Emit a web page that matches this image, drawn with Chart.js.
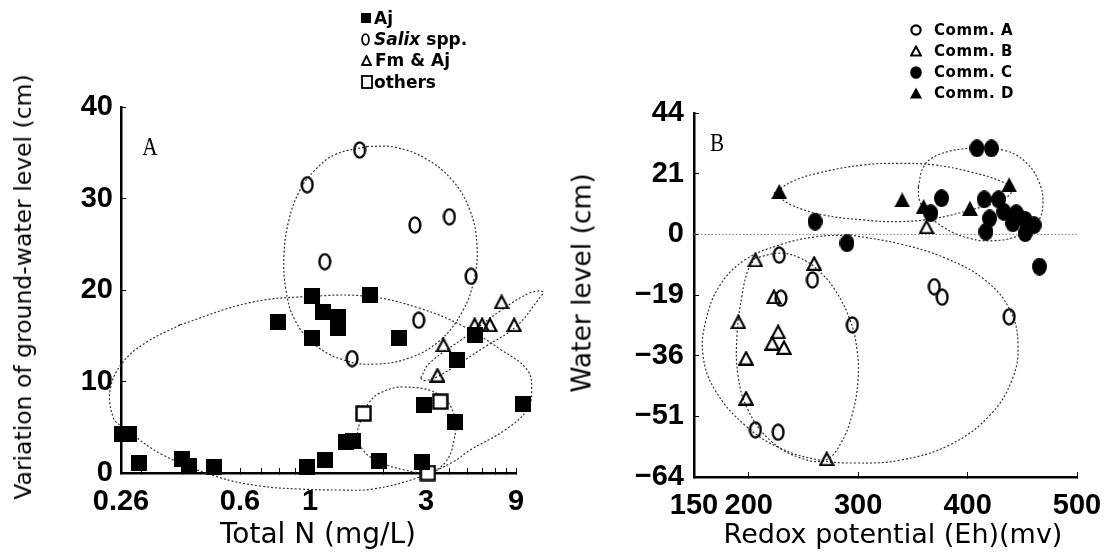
<!DOCTYPE html>
<html>
<head>
<meta charset="utf-8">
<script src="https://cdn.jsdelivr.net/npm/chart.js@4.4.0/dist/chart.umd.min.js"></script>
<style>
  body { margin: 0; background: #fff; }
  #wrap { position: relative; width: 1119px; height: 558px; overflow: hidden; font-family: "DejaVu Sans", sans-serif; color: #000; }
  canvas { position: absolute; top: 0; }
  .t { position: absolute; white-space: nowrap; transform: translate(-50%, -50%); }
  .lg { position: absolute; white-space: nowrap; transform: translateY(-50%); font-weight: bold; display: flex; align-items: center; }
  .lg svg { display: block; }
</style>
</head>
<body>
<div id="wrap">
  <canvas id="chart-a" width="560" height="558" style="left:0"></canvas>
  <canvas id="chart-b" width="559" height="558" style="left:560px"></canvas>

  <div class="t" style="left:23px; top:287px; font-size:23.5px; transform:translate(-50%,-50%) rotate(-90deg);">Variation of ground-water level (cm)</div>
  <div class="t" style="left:318px; top:533px; font-size:28px;">Total N (mg/L)</div>
  <div class="t" style="left:150px; top:147px; font-family:'Liberation Serif',serif; font-size:25px; transform:translate(-50%,-50%) scaleX(0.85);">A</div>

  <div class="t" style="left:581px; top:283px; font-size:26.5px; transform:translate(-50%,-50%) rotate(-90deg);">Water level (cm)</div>
  <div class="t" style="left:893px; top:533px; font-size:27px;">Redox potential (Eh)(mv)</div>
  <div class="t" style="left:717px; top:143px; font-family:'Liberation Serif',serif; font-size:25px; transform:translate(-50%,-50%) scaleX(0.85);">B</div>

  <div class="lg" style="left:361px; top:18px; font-size:17px;"><svg width="10" height="10"><rect x="0" y="0" width="10" height="10" fill="#000"/></svg><span style="margin-left:3px">Aj</span></div>
  <div class="lg" style="left:361px; top:39px; font-size:17px;"><svg width="9" height="13"><ellipse cx="4.5" cy="6.5" rx="3.4" ry="5.4" fill="none" stroke="#000" stroke-width="1.8"/></svg><span style="margin-left:4px"><i>Salix</i> spp.</span></div>
  <div class="lg" style="left:361px; top:60px; font-size:17px;"><svg width="11" height="11"><polygon points="5.5,1 10,10 1,10" fill="none" stroke="#000" stroke-width="1.8"/></svg><span style="margin-left:3px">Fm &amp; Aj</span></div>
  <div class="lg" style="left:361px; top:82px; font-size:17px;"><svg width="12" height="14"><rect x="1" y="1" width="10" height="12" fill="none" stroke="#000" stroke-width="1.8"/></svg><span style="margin-left:1px">others</span></div>

  <div class="lg" style="left:910px; top:30px; font-size:15px; letter-spacing:0.6px;"><svg width="12" height="12"><circle cx="6" cy="6" r="4.6" fill="none" stroke="#000" stroke-width="2.2"/></svg><span style="margin-left:12px">Comm. A</span></div>
  <div class="lg" style="left:910px; top:51px; font-size:15px; letter-spacing:0.6px;"><svg width="12" height="12"><polygon points="6,1.5 11,10.5 1,10.5" fill="none" stroke="#000" stroke-width="2"/></svg><span style="margin-left:12px">Comm. B</span></div>
  <div class="lg" style="left:910px; top:72px; font-size:15px; letter-spacing:0.6px;"><svg width="12" height="13"><ellipse cx="6" cy="6.5" rx="5.8" ry="6.3" fill="#000"/></svg><span style="margin-left:12px">Comm. C</span></div>
  <div class="lg" style="left:910px; top:93px; font-size:15px; letter-spacing:0.6px;"><svg width="12" height="12"><polygon points="6,0.5 12,11.5 0,11.5" fill="#000"/></svg><span style="margin-left:12px">Comm. D</span></div>
</div>

<script>
// ---- panel A : Total N vs variation of ground-water level ----
const nKnots = [0.26, 0.6, 1, 3, 9];
const nLabels = ["0.26", "0.6", "1", "3", "9"];
const nMinor = [0.3, 0.4, 0.5, 0.7, 0.8, 0.9, 2, 4, 5, 6, 7, 8];
const gwTicks = [0, 10, 20, 30, 40];

const ajPoints = [
  [1.02, 19.3], [1.77, 19.5], [1.13, 17.6], [1.30, 17.1], [1.30, 15.8], [0.79, 16.5],
  [1.02, 14.7], [2.32, 14.7], [5.43, 15.1], [4.36, 12.35], [2.95, 7.4], [9.8, 7.5],
  [4.27, 5.6], [0.262, 4.3], [0.275, 4.3], [0.296, 1.05], [0.40, 1.5], [0.42, 0.77],
  [0.50, 0.7], [0.98, 0.7], [1.15, 1.4], [1.41, 3.4], [1.50, 3.5], [1.92, 1.3], [2.88, 1.2]
];
const salixPoints = [
  [1.60, 35.3], [0.98, 31.5], [2.70, 27.1], [3.99, 28.0], [1.15, 23.1], [5.2, 21.5],
  [2.80, 16.7], [1.49, 12.5]
];
const fmAjPoints = [
  [7.55, 18.7], [5.43, 16.2], [5.95, 16.2], [6.55, 16.2], [8.8, 16.2], [3.71, 14.0], [3.45, 10.7]
];
const otherPoints = [[1.66, 6.5], [3.57, 7.8], [3.07, 0]];

// dotted group outlines
const salixRing = [
  [1.733, 35.7], [1.267, 34.8], [1.048, 33.1], [0.929, 30.9], [0.858, 27.7], [0.827, 23.8],
  [0.839, 20.0], [0.896, 16.7], [1.048, 14.0], [1.393, 12.3], [1.851, 11.9], [2.578, 12.6],
  [3.56, 14.5], [4.66, 17.6], [5.39, 21.1], [5.59, 24.9], [5.13, 28.7], [4.13, 32.0],
  [2.97, 34.4], [2.24, 35.6], [1.733, 35.7]
];
const ajRing = [
  [0.394, 16.2], [0.641, 18.6], [1.01, 19.3], [1.733, 19.3], [2.83, 18.0], [4.66, 16.1],
  [7.58, 13.4], [10.3, 11.3], [10.9, 9.1], [10.3, 6.9], [7.87, 4.7], [5.13, 2.5], [4.17, 1.2],
  [2.75, -0.55], [1.816, -1.75], [1.33, -1.86], [0.93, -1.75], [0.694, -1.42], [0.514, -0.44],
  [0.349, 1.97], [0.277, 4.37], [0.262, 5.0], [0.246, 6.1], [0.241, 9.1], [0.262, 12.0],
  [0.308, 14.2], [0.394, 16.2]
];
const otherRing = [
  [1.662, 6.52], [1.568, 4.34], [1.652, 2.51], [1.922, 1.23], [2.445, 0.33], [3.06, -0.03],
  [3.82, 1.23], [4.22, 3.6], [4.26, 6.15], [3.57, 8.5], [2.445, 9.4], [1.926, 8.7],
  [1.738, 7.6], [1.662, 6.52]
];
const fmAjRing = [
  [2.85, 10.35], [3.13, 12.0], [4.87, 14.9], [7.52, 17.8], [10.7, 19.7], [12.5, 19.8],
  [11.96, 19.1], [9.0, 16.0], [6.06, 13.7], [4.45, 11.9], [3.42, 10.5], [2.95, 10.1], [2.85, 10.35]
];

// ---- panel B : redox potential vs water level ----
const ehTicks = [150, 200, 300, 400, 500];
const wlKnots = [-64, -51, -36, -19, 0, 21, 44];
const wlLabels = ["\u221264", "\u221251", "\u221236", "\u221219", "0", "21", "44"];

const commA = [
  [227.9, -6.5], [258.2, -14.3], [229.5, -19.9], [369.6, -16.4], [376.8, -19.6],
  [294.7, -27.4], [438.0, -25.1], [206.1, -53.9], [226.9, -54.4]
];
const commB = [
  [362.5, 2.6], [206.1, -8.0], [259.8, -9.1], [223.0, -19.5], [190.5, -26.5], [226.9, -29.3],
  [221.4, -32.5], [232.2, -33.7], [197.6, -36.6], [197.6, -46.5], [271.3, -60.1]
];
const commC = [
  [408.6, 30.6], [421.8, 30.6], [260.6, 4.4], [289.8, -2.8], [376.2, 12.5], [366.4, 7.3],
  [415.2, 12.1], [428.3, 12.1], [420.1, 5.5], [433.1, 7.8], [441.3, 3.8], [444.5, 7.3],
  [452.7, 5.0], [460.8, 3.2], [416.8, 0.9], [452.7, 0.4], [465.7, -10.1]
];
const commD = [[227.9, 14.8], [340.3, 11.9], [359.8, 9.6], [402.2, 9.0], [438.0, 17.1]];

const ringD = [
  [223.0, 14.2], [239.3, 18.2], [262.1, 21.1], [304.4, 24.3], [337.1, 24.9], [369.6, 24.3],
  [402.2, 21.7], [431.5, 18.2], [440.6, 15.3], [431.5, 11.9], [402.2, 8.4], [369.6, 5.5],
  [337.1, 4.4], [304.4, 5.0], [268.6, 6.7], [239.3, 10.1], [223.0, 14.2]
];
const ringC = [
  [355.0, 16.5], [359.8, 23.6], [372.9, 28.1], [402.2, 30.6], [434.7, 29.7], [454.3, 24.9],
  [465.7, 17.7], [468.9, 10.7], [464.1, 4.4], [447.8, -0.2], [425.0, -2.0], [402.2, -1.3],
  [379.4, 2.1], [363.1, 7.3], [356.0, 11.9], [355.0, 16.5]
];
const ringA = [
  [292.6, -0.2], [338.2, -3.0], [379.4, -7.4], [415.9, -14.3], [438.8, -23.2], [446.1, -33.0],
  [440.6, -42.0], [420.5, -50.7], [383.9, -57.1], [338.2, -60.4], [297.1, -61.0], [265.1, -60.4],
  [228.6, -57.8], [196.6, -52.9], [169.2, -44.5], [158.2, -35.8], [161.0, -26.0], [173.8, -15.9],
  [196.6, -8.0], [228.6, -3.3], [260.6, -0.8], [292.6, -0.2]
];
const ringB = [
  [205.7, -7.4], [228.6, -5.9], [246.9, -7.4], [263.3, -11.2], [278.8, -17.4], [292.6, -26.0],
  [299.0, -34.4], [299.9, -42.0], [294.4, -50.7], [283.4, -57.1], [269.7, -60.4], [246.9, -59.9],
  [219.5, -56.1], [199.3, -49.4], [190.2, -40.8], [189.3, -30.2], [193.9, -19.0], [199.3, -11.2],
  [205.7, -7.4]
];
const zeroLine = [[150, 0], [500, 0]];

// the figure's axes put their labelled ticks at uneven places, so map piecewise between knots;
// knotAt gives where each knot sits along the axis (0 = start, 1 = end)
function makeKnotScale(id, knots, knotAt, useLog, minor) {
  const f = useLog ? Math.log10 : (v) => v;
  class KnotScale extends Chart.LinearScale {
    buildTicks() {
      return knots.concat(minor).map((v) => ({ value: v }));
    }
    knotDecimal(value) {
      let i = 0;
      while (i < knots.length - 2 && value > knots[i + 1]) i++;
      const t = (f(value) - f(knots[i])) / (f(knots[i + 1]) - f(knots[i]));
      return knotAt[i] + t * (knotAt[i + 1] - knotAt[i]);
    }
    getPixelForValue(value) {
      if (value === null || isNaN(value)) return NaN;
      return this.getPixelForDecimal(this.knotDecimal(value));
    }
    getValueForPixel(pixel) {
      const d = this.getDecimalForPixel(pixel);
      let i = 0;
      while (i < knots.length - 2 && d > knotAt[i + 1]) i++;
      const t = (d - knotAt[i]) / (knotAt[i + 1] - knotAt[i]);
      const v = f(knots[i]) + t * (f(knots[i + 1]) - f(knots[i]));
      return useLog ? Math.pow(10, v) : v;
    }
  }
  KnotScale.id = id;
  KnotScale.defaults = {};
  return KnotScale;
}
Chart.register(makeKnotScale("knotN", nKnots, [0, 0.3013, 0.4785, 0.7722, 1], true, nMinor));
Chart.register(makeKnotScale("knotWL", wlKnots, [0, 1 / 6, 2 / 6, 3 / 6, 4 / 6, 5 / 6, 1], false, []));

function marker(w, h, draw) {
  const c = document.createElement("canvas");
  c.width = w;
  c.height = h;
  const ctx = c.getContext("2d");
  ctx.lineWidth = 2;
  ctx.strokeStyle = "#000";
  ctx.fillStyle = "#000";
  draw(ctx, w, h);
  return c;
}
const mFilledSquare = marker(16, 16, (ctx, w, h) => ctx.fillRect(0, 0, w, h));
const mOpenSquare = marker(17, 17, (ctx, w, h) => {
  ctx.lineWidth = 2.4;
  ctx.fillStyle = "#fff";
  ctx.fillRect(1, 1, w - 2, h - 2);
  ctx.strokeRect(1.5, 1.5, w - 3, h - 3);
});
const mOpenEllipse = marker(14, 18, (ctx, w, h) => {
  ctx.lineWidth = 2.4;
  ctx.beginPath();
  ctx.ellipse(w / 2, h / 2, w / 2 - 1.6, h / 2 - 1.4, 0, 0, Math.PI * 2);
  ctx.stroke();
});
const mOpenTriangle = marker(16, 15, (ctx, w, h) => {
  ctx.lineWidth = 2.2;
  ctx.beginPath();
  ctx.moveTo(w / 2, 1.5);
  ctx.lineTo(w - 1.5, h - 1.2);
  ctx.lineTo(1.5, h - 1.2);
  ctx.closePath();
  ctx.stroke();
});
const mFilledEllipse = marker(15, 18, (ctx, w, h) => {
  ctx.beginPath();
  ctx.ellipse(w / 2, h / 2, w / 2, h / 2, 0, 0, Math.PI * 2);
  ctx.fill();
});
const mFilledTriangle = marker(16, 15, (ctx, w, h) => {
  ctx.beginPath();
  ctx.moveTo(w / 2, 0);
  ctx.lineTo(w, h);
  ctx.lineTo(0, h);
  ctx.closePath();
  ctx.fill();
});

const toXY = (arr) => arr.map((p) => ({ x: p[0], y: p[1] }));

function pointSet(data, style) {
  return { data: toXY(data), pointStyle: style, pointRadius: 8, showLine: false, clip: false, order: 0 };
}
function ringSet(data) {
  return {
    data: toXY(data), showLine: true, pointRadius: 0, tension: 0.4, borderColor: "#333",
    borderWidth: 1.2, borderDash: [2, 2], fill: false, clip: false, order: 2
  };
}

const tickFont = { family: '"Liberation Sans Narrow", "Liberation Sans", sans-serif', weight: "bold", size: 29 };
const axisGrid = { drawOnChartArea: false, tickLength: -5, tickColor: "#000", tickWidth: 1 };
const axisBorder = { color: "#000", width: 2.5 };

new Chart(document.getElementById("chart-a"), {
  type: "scatter",
  data: {
    datasets: [
      ringSet(salixRing), ringSet(ajRing), ringSet(otherRing), ringSet(fmAjRing),
      pointSet(ajPoints, mFilledSquare), pointSet(salixPoints, mOpenEllipse),
      pointSet(fmAjPoints, mOpenTriangle), pointSet(otherPoints, mOpenSquare)
    ]
  },
  options: {
    responsive: false,
    animation: false,
    events: [],
    layout: { padding: { left: 51, right: 44, top: 107, bottom: 35 } },
    plugins: { legend: { display: false }, tooltip: { enabled: false } },
    scales: {
      x: {
        type: "knotN",
        min: 0.26,
        max: 9,
        grid: axisGrid,
        border: axisBorder,
        ticks: {
          autoSkip: false, maxRotation: 0, padding: 17, color: "#000", font: tickFont,
          callback: (v) => { const i = nKnots.indexOf(v); return i >= 0 ? nLabels[i] : ""; }
        },
        afterFit: (s) => { s.height = 50; }
      },
      y: {
        type: "linear",
        min: 0,
        max: 40,
        grid: axisGrid,
        border: axisBorder,
        afterBuildTicks: (s) => { s.ticks = gwTicks.map((v) => ({ value: v })); },
        ticks: { padding: 13, color: "#000", font: tickFont },
        afterFit: (s) => { s.width = 70; }
      }
    }
  }
});

new Chart(document.getElementById("chart-b"), {
  type: "scatter",
  data: {
    datasets: [
      ringSet(ringD), ringSet(ringC), ringSet(ringA), ringSet(ringB),
      { data: toXY(zeroLine), showLine: true, pointRadius: 0, borderColor: "#777", borderWidth: 1,
        borderDash: [1.5, 2], clip: false, order: 3 },
      pointSet(commA, mOpenEllipse), pointSet(commB, mOpenTriangle),
      pointSet(commC, mFilledEllipse), pointSet(commD, mFilledTriangle)
    ]
  },
  options: {
    responsive: false,
    animation: false,
    events: [],
    layout: { padding: { left: 64, right: 42, top: 113, bottom: 31 } },
    plugins: { legend: { display: false }, tooltip: { enabled: false } },
    scales: {
      x: {
        type: "linear",
        min: 150,
        max: 500,
        grid: axisGrid,
        border: axisBorder,
        afterBuildTicks: (s) => { s.ticks = ehTicks.map((v) => ({ value: v })); },
        ticks: { autoSkip: false, maxRotation: 0, padding: 17, color: "#000", font: tickFont },
        afterFit: (s) => { s.height = 50; }
      },
      y: {
        type: "knotWL",
        min: -64,
        max: 44,
        grid: axisGrid,
        border: axisBorder,
        ticks: {
          autoSkip: false, padding: 15, color: "#000", font: tickFont,
          callback: (v) => { const i = wlKnots.indexOf(v); return i >= 0 ? wlLabels[i] : ""; }
        },
        afterFit: (s) => { s.width = 70; }
      }
    }
  }
});
</script>
</body>
</html>
